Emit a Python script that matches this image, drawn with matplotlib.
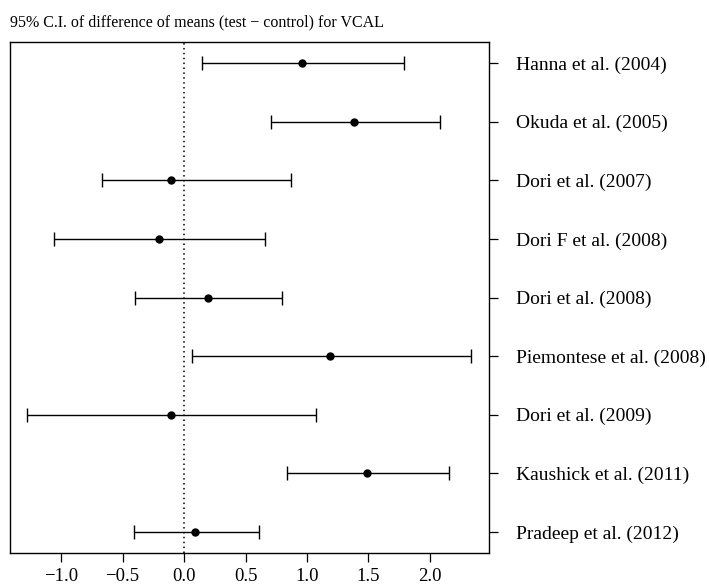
import matplotlib
matplotlib.use('Agg')
from matplotlib import pyplot as plt

# study labels, top to bottom
studies = ['Hanna et al. (2004)', 'Okuda et al. (2005)', 'Dori et al. (2007)',
           'Dori F et al. (2008)', 'Dori et al. (2008)', 'Piemontese et al. (2008)',
           'Dori et al. (2009)', 'Kaushick et al. (2011)', 'Pradeep et al. (2012)']
mean_diff = [0.96, 1.385, -0.108, -0.206, 0.193, 1.187, -0.108, 1.485, 0.092]
ci_low = [0.15, 0.71, -0.667, -1.054, -0.396, 0.062, -1.274, 0.837, -0.409]
ci_high = [1.785, 2.085, 0.87, 0.659, 0.80, 2.333, 1.076, 2.157, 0.61]
xticks = [-1.0, -0.5, 0.0, 0.5, 1.0, 1.5, 2.0]

plt.rcParams['font.family'] = ['Liberation Serif', 'DejaVu Serif']

fig = plt.figure(figsize=(7.09, 5.86), dpi=100)
ax = fig.add_axes([0.0141, 0.0563, 0.6756, 0.872])

n = len(studies)
ypos = list(range(n, 0, -1))
err_lo = [m - lo for m, lo in zip(mean_diff, ci_low)]
err_hi = [hi - m for m, hi in zip(mean_diff, ci_high)]

ax.errorbar(mean_diff, ypos, xerr=[err_lo, err_hi], fmt='o', color='black',
            markersize=5, elinewidth=1.0, capsize=5, capthick=1.0)
# reference line at zero difference
ax.axvline(0, color='black', linestyle=(0, (1, 2.2)), linewidth=1.1)

ax.set_xlim(-1.415, 2.48)
ax.set_ylim(0.64, n + 0.36)
ax.set_xticks(xticks)
ax.set_xticklabels(['\u22121.0', '\u22120.5', '0.0', '0.5', '1.0', '1.5', '2.0'])
ax.set_yticks(ypos)
ax.set_yticklabels(studies)
ax.yaxis.tick_right()
ax.tick_params(axis='y', left=False, right=True, length=6.5, width=0.9,
               labelsize=14, pad=13)
ax.tick_params(axis='x', length=6.5, width=0.9, labelsize=13.5, pad=4)
for s in ax.spines.values():
    s.set_linewidth(1)

fig.text(0.0141, 0.955, '95% C.I. of difference of means (test \u2212 control) for VCAL',
         fontsize=11.5, ha='left', va='baseline')

fig.savefig('out.png', dpi=100)
